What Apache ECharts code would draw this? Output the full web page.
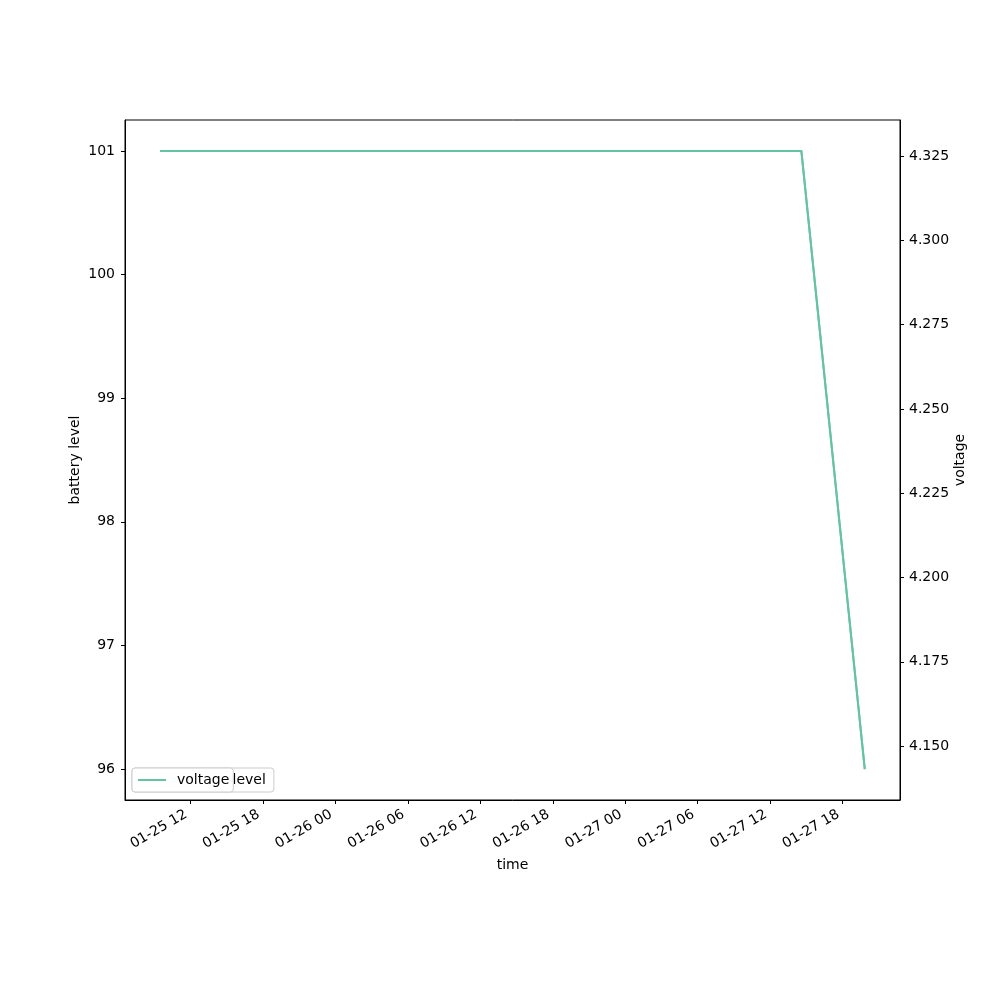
<!DOCTYPE html>
<html>
<head>
<meta charset="utf-8">
<script src="https://cdn.jsdelivr.net/npm/echarts@6/dist/echarts.min.js"></script>
<style>html,body{margin:0;padding:0;background:#fff}#c{width:1000px;height:1000px}</style>
</head>
<body>
<div id="c"></div>
<script>
// ---- data ----
var times = ['2023-01-25T09:30:00', '2023-01-27T14:35:00', '2023-01-27T19:50:00'];
var batteryLevel = [101, 101, 96];
var voltage = [4.3265, 4.3265, 4.1432];
// ---- tick labels ----
var xTicks = ['2023-01-25T12:00:00', '2023-01-25T18:00:00', '2023-01-26T00:00:00', '2023-01-26T06:00:00',
  '2023-01-26T12:00:00', '2023-01-26T18:00:00', '2023-01-27T00:00:00', '2023-01-27T06:00:00',
  '2023-01-27T12:00:00', '2023-01-27T18:00:00'];
var leftTicks = [96, 97, 98, 99, 100, 101];
var rightTicks = [4.150, 4.175, 4.200, 4.225, 4.250, 4.275, 4.300, 4.325];

var FONT = 'DejaVu Sans';
var COLOR = '#66c2a5';

function ms(s) { return new Date(s).getTime(); }
function pad2(n) { return (n < 10 ? '0' : '') + n; }
function padRange(arr) {
  var mn = Math.min.apply(null, arr), mx = Math.max.apply(null, arr), p = (mx - mn) * 0.05;
  return [mn - p, mx + p];
}
var tms = times.map(ms);
var xr = padRange(tms), yl = padRange(batteryLevel), yr = padRange(voltage);

var chart = echarts.init(document.getElementById('c'), null, {renderer: 'canvas'});
var labelStyle = {color: '#000', fontFamily: FONT, fontSize: 14};
function legendOf(name, z, pad) {
  return {
    data: [name], z: z,
    left: 132, top: 768, orient: 'vertical', icon: 'rect',
    backgroundColor: '#fff', borderColor: '#cccccc', borderWidth: 1, borderRadius: 3,
    padding: pad, itemWidth: 28, itemHeight: 2,
    textStyle: {color: '#000', fontFamily: FONT, fontSize: 14, padding: [0, 0, 0, 6], lineHeight: 14}
  };
}
chart.setOption({
  animation: false,
  backgroundColor: '#fff',
  grid: {left: 125, right: 100, top: 120, bottom: 200, containLabel: false,
    show: true, borderColor: '#000', borderWidth: 1, backgroundColor: 'transparent'},
  xAxis: {
    type: 'value', min: xr[0], max: xr[1], scale: true,
    name: 'time', nameLocation: 'middle', nameGap: 58,
    nameTextStyle: labelStyle,
    axisLine: {show: true, lineStyle: {color: '#000', width: 1}},
    splitLine: {show: false},
    axisTick: {show: true, length: 4, lineStyle: {color: '#000'}, customValues: xTicks.map(ms)},
    axisLabel: Object.assign({
      rotate: 30, margin: 11, hideOverlap: false, padding: [0, 5, 0, 0],
      customValues: xTicks.map(ms),
      formatter: function (v) {
        var d = new Date(v);
        return pad2(d.getMonth() + 1) + '-' + pad2(d.getDate()) + ' ' + pad2(d.getHours());
      }
    }, labelStyle)
  },
  yAxis: [{
    type: 'value', min: yl[0], max: yl[1], position: 'left',
    name: 'battery level', nameLocation: 'middle', nameGap: 43, nameRotate: 90, nameMoveOverlap: false,
    nameTextStyle: labelStyle,
    axisLine: {show: true, lineStyle: {color: '#000', width: 1}},
    splitLine: {show: false},
    axisTick: {show: true, length: 4, lineStyle: {color: '#000'}, customValues: leftTicks},
    axisLabel: Object.assign({margin: 10, customValues: leftTicks, formatter: function (v) { return String(v); }}, labelStyle)
  }, {
    type: 'value', min: yr[0], max: yr[1], position: 'right',
    name: 'voltage', nameLocation: 'middle', nameGap: 53, nameRotate: 90, nameMoveOverlap: false,
    nameTextStyle: labelStyle,
    axisLine: {show: true, lineStyle: {color: '#000', width: 1}},
    splitLine: {show: false},
    axisTick: {show: true, length: 4, lineStyle: {color: '#000'}, customValues: rightTicks},
    axisLabel: Object.assign({margin: 9, customValues: rightTicks, formatter: function (v) { return v.toFixed(3); }}, labelStyle)
  }],
  legend: [
    legendOf('battery level', 5, [5, 8, 5, 6]),
    legendOf('voltage', 6, [5, 4, 5, 6])
  ],
  series: [{
    name: 'battery level', type: 'line', yAxisIndex: 0, showSymbol: false, symbol: 'none',
    color: COLOR, lineStyle: {color: COLOR, width: 2}, z: 2,
    data: tms.map(function (t, i) { return [t, batteryLevel[i]]; })
  }, {
    name: 'voltage', type: 'line', yAxisIndex: 1, showSymbol: false, symbol: 'none',
    color: COLOR, lineStyle: {color: COLOR, width: 2}, z: 3,
    data: tms.map(function (t, i) { return [t, voltage[i]]; })
  }]
});
</script>
</body>
</html>
